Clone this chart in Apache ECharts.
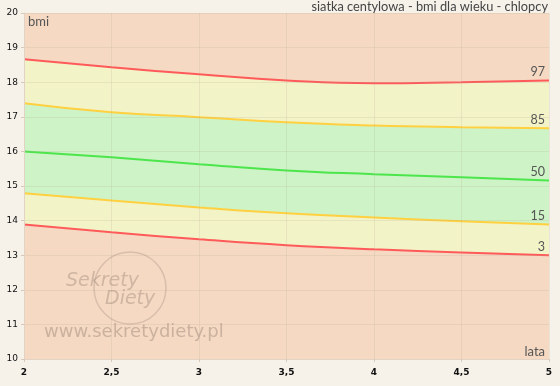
<!DOCTYPE html>
<html><head><meta charset="utf-8">
<script src="https://cdn.jsdelivr.net/npm/echarts@6/dist/echarts.min.js"></script>
<style>html,body{margin:0;padding:0;background:#f6f2ea;}#c{width:560px;height:386px;}</style>
</head><body><div id="c"></div>
<script>
var ages = [2, 2.5, 3, 3.5, 4, 4.5, 5];
var p3  = [13.89, 13.66, 13.46, 13.29, 13.17, 13.08, 13.00];
var p15 = [14.79, 14.58, 14.38, 14.21, 14.09, 13.98, 13.89];
var p50 = [16.00, 15.83, 15.63, 15.45, 15.34, 15.25, 15.16];
var p85 = [17.39, 17.13, 16.99, 16.84, 16.75, 16.70, 16.67];
var p97 = [18.66, 18.43, 18.23, 18.05, 17.97, 18.00, 18.05];
var centileNames = ['3', '15', '50', '85', '97'];
var xTicks = ['2', '2,5', '3', '3,5', '4', '4,5', '5'];

var FONT = 'Lato';
function pts(arr){ return ages.map(function(a,i){ return [a, arr[i]]; }); }

function curve(arr, label, color, fill){
  return {type:'line', data:pts(arr), smooth:true, symbol:'none', z:2,
    lineStyle:{width:2, color:color},
    areaStyle: fill ? {color:fill, opacity:1, origin:'start'} : null,
    endLabel:{show:true, formatter:label, align:'right', verticalAlign:'bottom', distance:0, offset:[-4,-2],
      color:'#555', fontFamily:FONT, fontSize:12.5}};
}

var chart = echarts.init(document.getElementById('c'));
chart.setOption({
  backgroundColor:'#f6f2ea',
  animation:false,
  grid:{left:24, right:11, top:13, bottom:27, show:true, backgroundColor:'#f5d9c3', borderWidth:0},
  xAxis:{type:'value', min:2, max:5, interval:0.5, z:3,
    axisLine:{show:true, lineStyle:{color:'#e2d3c4'}},
    axisTick:{show:true, length:3, lineStyle:{color:'#d8c8b8'}},
    splitLine:{show:true, lineStyle:{color:'rgba(180,160,140,0.18)'}},
    axisLabel:{formatter:function(v){ var i = ages.indexOf(v); return i>=0 ? xTicks[i] : ''; },
      color:'#111', fontSize:9, fontWeight:'bold', fontFamily:'DejaVu Sans', margin:9}},
  yAxis:{type:'value', min:10, max:20, interval:1, z:3,
    axisLine:{show:true, lineStyle:{color:'#e2d3c4'}},
    axisTick:{show:true, length:3, lineStyle:{color:'#d8c8b8'}},
    splitLine:{show:true, lineStyle:{color:'rgba(180,160,140,0.18)'}},
    axisLabel:{color:'#111', fontSize:9, fontFamily:'DejaVu Sans', margin:6}},
  graphic:[
    {type:'text', right:12, top:0, style:{text:'siatka centylowa - bmi dla wieku - chlopcy', fill:'#444', font:'12.8px Lato'}},
    {type:'text', left:28, top:15, z:10, style:{text:'bmi', fill:'#555', font:'13px Lato'}},
    {type:'text', right:15, top:345, z:10, style:{text:'lata', fill:'#555', font:'13px Lato'}},
    {type:'circle', shape:{cx:130, cy:288, r:36}, z:10, style:{fill:'none', stroke:'rgba(150,130,115,0.3)', lineWidth:1.5}},
    {type:'text', left:66, top:272, z:10, style:{text:'Sekrety', fill:'rgba(150,130,115,0.4)', font:'italic 19px "DejaVu Sans"'}},
    {type:'text', left:105, top:290, z:10, style:{text:'Diety', fill:'rgba(150,130,115,0.4)', font:'italic 19px "DejaVu Sans"'}},
    {type:'text', left:44, top:323, z:10, style:{text:'www.sekretydiety.pl', fill:'rgba(150,130,115,0.45)', font:'18px "DejaVu Sans"'}}
  ],
  series:[
    curve(p97, centileNames[4], '#ff5a5a', '#f3f3c8'),
    curve(p85, centileNames[3], '#ffd040', '#cdf3c6'),
    curve(p50, centileNames[2], '#4ce64c', null),
    curve(p15, centileNames[1], '#ffd040', '#f3f3c8'),
    curve(p3, centileNames[0], '#ff5a5a', '#f5d9c3')
  ]
});
</script></body></html>
